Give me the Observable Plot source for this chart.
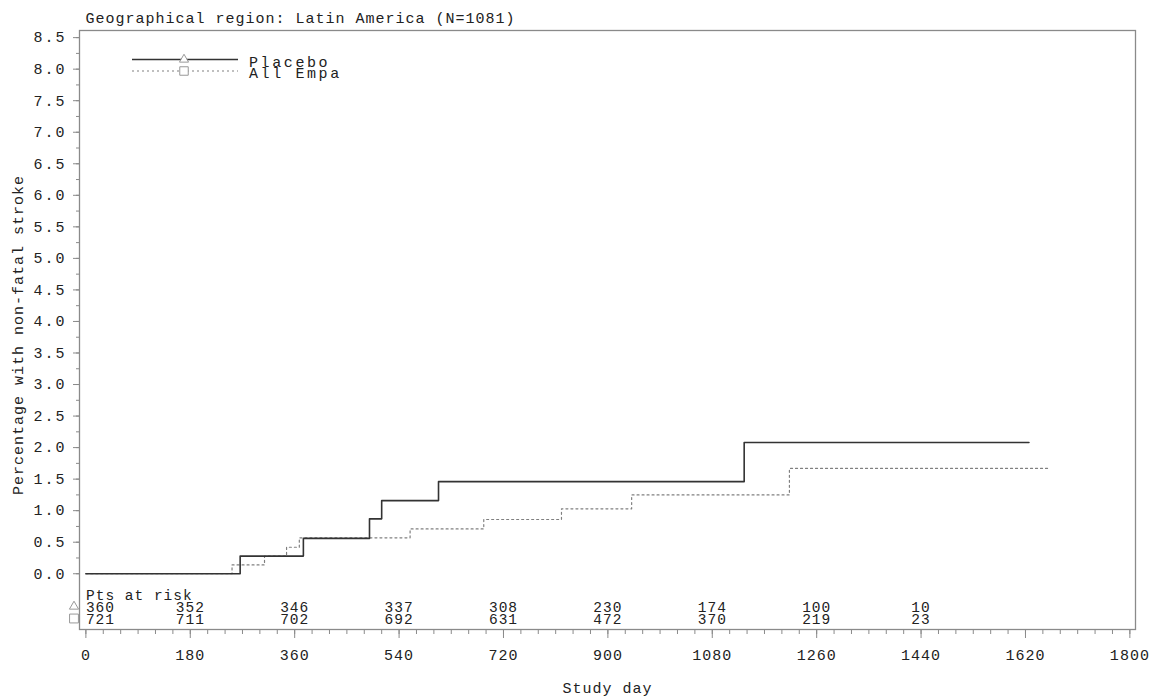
<!DOCTYPE html>
<html>
<head>
<meta charset="utf-8">
<script src="https://cdn.jsdelivr.net/npm/d3@7"></script>
<script src="https://cdn.jsdelivr.net/npm/@observablehq/plot@0.6"></script>
<style>
  body { margin: 0; background: #fff; }
  #chart { width: 1155px; height: 698px; }
  #chart g[aria-label="y-axis tick label"] text { letter-spacing: 2px; }
  #chart .legend text { letter-spacing: 2.6px; }
</style>
</head>
<body>
<div id="chart"></div>
<script>
// ---- data ----
const titleText = "Geographical region: Latin America (N=1081)";
const yTitle = "Percentage with non-fatal stroke";
const xTitle = "Study day";
const seriesNames = ["Placebo", "All Empa"];

const placeboDays = [0, 266, 375, 489, 510, 608, 1135, 1626];
const placeboPct  = [0, 0.28, 0.56, 0.87, 1.16, 1.46, 2.08, 2.08];

const empaDays = [0, 252, 308, 346, 368, 559, 686, 820, 941, 1213, 1662];
const empaPct  = [0, 0.14, 0.28, 0.42, 0.57, 0.71, 0.86, 1.03, 1.25, 1.67, 1.67];

const riskLabel = "Pts at risk";
const riskDays    = [0, 180, 360, 540, 720, 900, 1080, 1260, 1440];
const riskPlacebo = [360, 352, 346, 337, 308, 230, 174, 100, 10];
const riskEmpa    = [721, 711, 702, 692, 631, 472, 370, 219, 23];

const xTicks = [0, 180, 360, 540, 720, 900, 1080, 1260, 1440, 1620, 1800];
const xMinorTicks = d3.range(0, 1801, 30);
const yTicks = [0, 0.5, 1, 1.5, 2, 2.5, 3, 3.5, 4, 4.5, 5, 5.5, 6, 6.5, 7, 7.5, 8, 8.5];
const yMinorTicks = d3.range(0, 8.51, 0.25);

// ---- build tables ----
const placebo = placeboDays.map((d, i) => ({day: d, pct: placeboPct[i]}));
const empa = empaDays.map((d, i) => ({day: d, pct: empaPct[i]}));
const risk = riskDays.map((d, i) => ({day: d, p: riskPlacebo[i], e: riskEmpa[i]}));

const W = 1155, H = 698;
const mL = 79, mR = 20, mT = 30, mB = 69;
const textColor = "#222";
const axisGrey = "#8a8a8a";
const riskFont = 14.5;

const chart = Plot.plot({
  width: W,
  height: H,
  marginLeft: mL,
  marginRight: mR,
  marginTop: mT,
  marginBottom: mB,
  style: {
    fontFamily: "'Liberation Mono', 'DejaVu Sans Mono', monospace",
    fontSize: "15px",
    letterSpacing: "1px",
    color: textColor,
    background: "#fff"
  },
  x: {domain: [-11, 1809.7]},
  y: {domain: [-0.884, 8.613]},
  marks: [
    Plot.frame({stroke: axisGrey, strokeWidth: 1.3}),
    // y axis
    Plot.axisY(yMinorTicks, {anchor: "left", tickSize: 3, tickFormat: () => "", label: null, stroke: axisGrey}),
    Plot.axisY(yTicks, {anchor: "left", tickSize: 6, tickPadding: 7, tickFormat: d => d.toFixed(1), label: null, stroke: axisGrey, fill: textColor}),
    // x axis
    Plot.axisX(xMinorTicks, {anchor: "bottom", tickSize: 5, tickFormat: () => "", label: null, stroke: axisGrey}),
    Plot.axisX(xTicks, {anchor: "bottom", tickSize: 9, tickPadding: 11, tickFormat: d => String(d), label: null, stroke: axisGrey, fill: textColor}),
    // curves
    Plot.line(empa, {x: "day", y: "pct", curve: "step-after", stroke: "#808080", strokeWidth: 1.2, strokeDasharray: "2,3"}),
    Plot.line(placebo, {x: "day", y: "pct", curve: "step-after", stroke: "#333", strokeWidth: 1.6}),
    // at-risk table
    Plot.text([riskLabel], {frameAnchor: "bottom-left", dx: 6.5, dy: -34, textAnchor: "start", lineAnchor: "middle", fontSize: riskFont, fill: textColor}),
    Plot.text(risk, {filter: (d, i) => i === 0, x: "day", frameAnchor: "bottom", text: d => String(d.p), textAnchor: "start", lineAnchor: "middle", dy: -22, fontSize: riskFont, fill: textColor}),
    Plot.text(risk, {filter: (d, i) => i === 0, x: "day", frameAnchor: "bottom", text: d => String(d.e), textAnchor: "start", lineAnchor: "middle", dy: -10, fontSize: riskFont, fill: textColor}),
    Plot.text(risk, {filter: (d, i) => i > 0, x: "day", frameAnchor: "bottom", text: d => String(d.p), textAnchor: "middle", lineAnchor: "middle", dy: -22, fontSize: riskFont, fill: textColor}),
    Plot.text(risk, {filter: (d, i) => i > 0, x: "day", frameAnchor: "bottom", text: d => String(d.e), textAnchor: "middle", lineAnchor: "middle", dy: -10, fontSize: riskFont, fill: textColor}),
    Plot.dot([seriesNames[0]], {frameAnchor: "bottom-left", dx: -5.5, dy: -23, symbol: "triangle", r: 3.4, stroke: "#999", fill: "none", strokeWidth: 1}),
    Plot.dot([seriesNames[1]], {frameAnchor: "bottom-left", dx: -5.5, dy: -11, symbol: "square", r: 5, stroke: "#999", fill: "none", strokeWidth: 1}),
    // titles
    Plot.text([titleText], {frameAnchor: "top-left", dx: 6, dy: -12, textAnchor: "start", lineAnchor: "middle", fill: textColor}),
    Plot.text([yTitle], {frameAnchor: "left", rotate: -90, dx: -61, dy: 5, textAnchor: "middle", lineAnchor: "middle", fill: textColor}),
    Plot.text([xTitle], {frameAnchor: "bottom", dy: 59, textAnchor: "middle", lineAnchor: "middle", fill: textColor})
  ]
});

document.getElementById("chart").appendChild(chart);

// ---- legend inside the frame ----
const svg = d3.select(chart);
const lg = svg.append("g").attr("class", "legend").attr("text-anchor", "start");
const legendRows = [
  {name: seriesNames[0], y: 59.5, stroke: "#333", width: 1.6, dash: null, sym: d3.symbolTriangle, symSize: 36, ty: 62},
  {name: seriesNames[1], y: 71, stroke: "#808080", width: 1.2, dash: "2,3", sym: d3.symbolSquare, symSize: 72, ty: 73}
];
legendRows.forEach(r => {
  lg.append("line")
    .attr("x1", 132).attr("x2", 238).attr("y1", r.y).attr("y2", r.y)
    .attr("stroke", r.stroke).attr("stroke-width", r.width)
    .attr("stroke-dasharray", r.dash);
  lg.append("path")
    .attr("d", d3.symbol(r.sym, r.symSize)())
    .attr("transform", `translate(184,${r.y})`)
    .attr("fill", "#fff").attr("stroke", "#999").attr("stroke-width", 1);
  lg.append("text")
    .attr("x", 249).attr("y", r.ty).attr("dy", "0.32em")
    .attr("text-anchor", "start")
    .attr("font-size", 15)
    .attr("fill", textColor)
    .text(r.name);
});
</script>
</body>
</html>
